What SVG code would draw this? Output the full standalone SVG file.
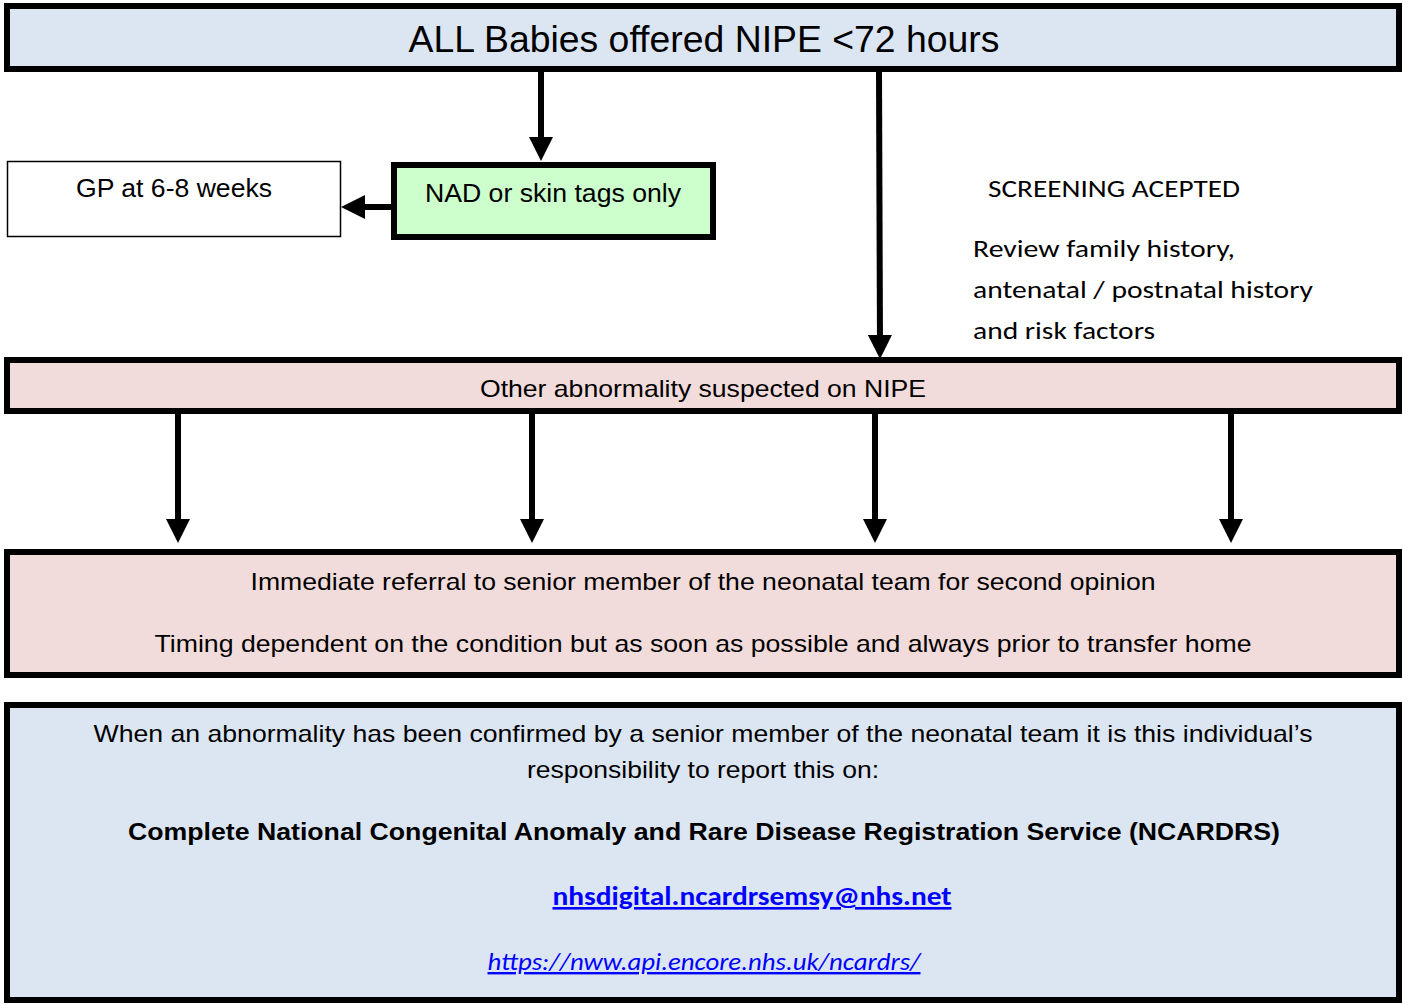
<svg xmlns="http://www.w3.org/2000/svg" width="1403" height="1005" viewBox="0 0 1403 1005">
<style>
.box{stroke:#000;stroke-width:6}
.blue{fill:#dce6f2}
.pink{fill:#f2dcdb}
.green{fill:#ccffcc}
.thin{fill:#fff;stroke:#000;stroke-width:1.5}
.ar{font-family:"Liberation Sans",Arial,sans-serif;fill:#000}
.cal{font-family:Carlito,Calibri,"Open Sans",sans-serif;fill:#000}
.conn{stroke:#000;stroke-width:6;fill:none;marker-end:url(#ah)}
</style>
<defs>
<marker id="ah" markerUnits="userSpaceOnUse" markerWidth="24" markerHeight="24" viewBox="0 0 24 24" refX="12" refY="12" orient="auto">
<path d="M0,0 L24,12 L0,24 Z" fill="#000"/>
</marker>
</defs>
<rect width="1403" height="1005" fill="#fff"/>
<g id="connectors">
<line class="conn" x1="541" y1="72" x2="541" y2="149"/>
<line class="conn" x1="879" y1="72" x2="880" y2="347"/>
<line class="conn" x1="391" y1="207" x2="353" y2="207"/>
<line class="conn" x1="178" y1="414" x2="178" y2="531"/>
<line class="conn" x1="532" y1="414" x2="532" y2="531"/>
<line class="conn" x1="875" y1="414" x2="875" y2="531"/>
<line class="conn" x1="1231" y1="414" x2="1231" y2="531"/>
</g>
<g id="top">
<rect class="box blue" x="7" y="6" width="1392" height="63"/>
<text class="ar" x="704" y="52" font-size="36" text-anchor="middle" textLength="591" lengthAdjust="spacingAndGlyphs">ALL Babies offered NIPE &lt;72 hours</text>
</g>
<g id="nad">
<rect class="box green" x="394" y="165" width="319" height="72"/>
<text class="ar" x="553" y="202" font-size="25" text-anchor="middle" textLength="256" lengthAdjust="spacingAndGlyphs">NAD or skin tags only</text>
</g>
<g id="gp">
<rect class="thin" x="7.5" y="161.5" width="333" height="75"/>
<text class="ar" x="174" y="197" font-size="25" text-anchor="middle" textLength="196" lengthAdjust="spacingAndGlyphs">GP at 6-8 weeks</text>
</g>
<g id="screening">
<text class="cal" x="988" y="197" font-size="25" textLength="252" lengthAdjust="spacingAndGlyphs">SCREENING ACEPTED</text>
<text class="cal" x="973" y="257" font-size="25" textLength="262" lengthAdjust="spacingAndGlyphs">Review family history,</text>
<text class="cal" x="973" y="298" font-size="25" textLength="340" lengthAdjust="spacingAndGlyphs">antenatal / postnatal history</text>
<text class="cal" x="973" y="339" font-size="25" textLength="182" lengthAdjust="spacingAndGlyphs">and risk factors</text>
</g>
<g id="other">
<rect class="box pink" x="7" y="360" width="1392" height="51"/>
<text class="ar" x="703" y="397" font-size="24" text-anchor="middle" textLength="446" lengthAdjust="spacingAndGlyphs">Other abnormality suspected on NIPE</text>
</g>
<g id="referral">
<rect class="box pink" x="7" y="552" width="1392" height="123"/>
<text class="ar" x="703" y="590" font-size="24" text-anchor="middle" textLength="905" lengthAdjust="spacingAndGlyphs">Immediate referral to senior member of the neonatal team for second opinion</text>
<text class="ar" x="703" y="652" font-size="24" text-anchor="middle" textLength="1097" lengthAdjust="spacingAndGlyphs">Timing dependent on the condition but as soon as possible and always prior to transfer home</text>
</g>
<g id="report">
<rect class="box blue" x="7" y="705" width="1392" height="295"/>
<text class="ar" x="703" y="742" font-size="24" text-anchor="middle" textLength="1219" lengthAdjust="spacingAndGlyphs">When an abnormality has been confirmed by a senior member of the neonatal team it is this individual’s</text>
<text class="ar" x="703" y="778" font-size="24" text-anchor="middle" textLength="352" lengthAdjust="spacingAndGlyphs">responsibility to report this on:</text>
<text class="ar" x="704" y="840" font-size="24" font-weight="bold" text-anchor="middle" textLength="1152" lengthAdjust="spacingAndGlyphs">Complete National Congenital Anomaly and Rare Disease Registration Service (NCARDRS)</text>
<text class="cal" x="752" y="905" font-size="26" font-weight="bold" style="fill:#0000ff" text-decoration="underline" text-anchor="middle" textLength="399" lengthAdjust="spacingAndGlyphs">nhsdigital.ncardrsemsy@nhs.net</text>
<text class="cal" x="704" y="970" font-size="24" font-style="italic" style="fill:#0000ff" text-decoration="underline" text-anchor="middle" textLength="433" lengthAdjust="spacingAndGlyphs">https://nww.api.encore.nhs.uk/ncardrs/</text>
</g>
</svg>
